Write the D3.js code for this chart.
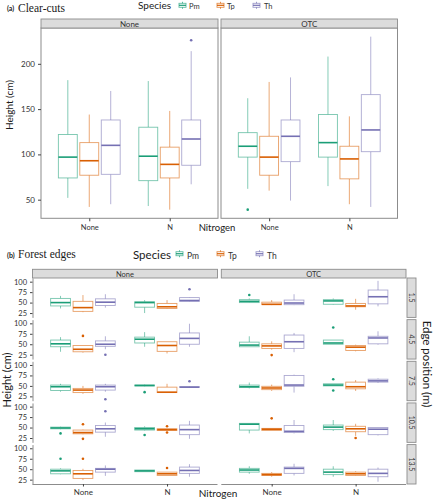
<!DOCTYPE html>
<html><head><meta charset="utf-8">
<script src="https://cdn.jsdelivr.net/npm/d3@7"></script>
<style>body{margin:0;background:#fff} svg{display:block}</style>
</head><body><svg id="c" width="433" height="500"></svg>
<script>
// ---------------- DATA ----------------
const species = ["Pm", "Tp", "Th"];
const speciesColors = ["#1b9e77", "#d95f02", "#7570b3"];
const nitrogen = ["None", "N"];
const warming = ["None", "OTC"];
const edgePositions = ["1.5", "4.5", "7.5", "10.5", "13.5"];
const clearTicks = [50, 100, 150, 200];
const edgeTicks = [25, 50, 75, 100];

// Clear-cuts boxes: [lower whisker, Q1, median, Q3, upper whisker]
// order: None-Pm, None-Tp, None-Th, N-Pm, N-Tp, N-Th
const clearNone = [
  [52, 74, 97, 122, 182], [42, 77, 93, 113, 144], [45, 78, 110, 138, 170],
  [43, 71, 98, 130, 181], [39, 74, 89, 108, 148], [67, 88, 117, 138, 214]
];
const clearOTC = [
  [62, 97, 109, 124, 162], [60, 77, 97, 120, 180], [49, 92, 120, 138, 185],
  [65, 97, 113, 144, 208], [45, 73, 95, 109, 142], [42, 103, 127, 166, 230]
];
// outliers: [nitrogen index, species index, value]
const clearNoneOut = [[1, 2, 226]];
const clearOTCOut = [[0, 0, 39]];

// Forest edges: rows = edge positions; each row six boxes as above
const edgeNone = [
  [[36, 42, 50, 60, 66], [27, 29, 38, 53, 68], [38, 43, 51, 59, 70], [25, 39, 50, 52, 56], [35, 36, 40, 48, 56], [52, 53, 55, 62, 63]],
  [[32, 44, 51, 60, 67], [30, 32, 38, 47, 47], [38, 45, 50, 58, 69], [44, 53, 62, 67, 79], [28, 33, 47, 56, 56], [44, 50, 64, 77, 99]],
  [[36, 39, 48, 52, 55], [31, 34, 40, 44, 50], [36, 40, 48, 52, 55], [49, 50, 51, 52, 53], [34, 34, 35, 47, 55], [46, 47, 47, 48, 49]],
  [[46, 47, 49, 51, 52], [34, 35, 38, 44, 45], [28, 39, 47, 55, 62], [43, 44, 47, 50, 53], [43, 43, 45, 47, 47], [23, 33, 45, 56, 66]],
  [[38, 39, 46, 50, 52], [24, 28, 39, 47, 51], [34, 43, 50, 52, 59], [44, 44, 46, 48, 48], [35, 35, 39, 43, 43], [32, 40, 47, 55, 62]]
];
const edgeOTC = [
  [[49, 50, 53, 57, 60], [44, 45, 46, 51, 56], [44, 45, 49, 56, 70], [45, 46, 54, 57, 60], [33, 40, 42, 48, 59], [41, 47, 64, 80, 102]],
  [[44, 44, 48, 55, 69], [37, 40, 46, 51, 57], [31, 40, 56, 72, 77], [50, 50, 53, 60, 60], [33, 35, 43, 47, 49], [49, 51, 65, 69, 81]],
  [[44, 46, 48, 52, 58], [38, 41, 45, 49, 53], [34, 49, 52, 75, 77], [50, 50, 52, 55, 55], [38, 43, 48, 59, 64], [57, 59, 62, 66, 68]],
  [[36, 44, 58, 60, 60], [43, 43, 46, 48, 48], [36, 38, 41, 55, 68], [42, 45, 51, 56, 68], [30, 40, 47, 53, 59], [31, 33, 46, 50, 50]],
  [[39, 43, 48, 52, 57], [32, 35, 37, 40, 43], [35, 40, 52, 55, 63], [32, 37, 43, 50, 57], [34, 35, 39, 43, 45], [20, 32, 40, 50, 54]]
];
// outliers: [row index, nitrogen index, species index, value]
const edgeNoneOut = [
  [0, 1, 2, 82], [1, 0, 1, 70], [1, 0, 2, 25], [2, 0, 2, 18], [2, 1, 0, 35], [2, 1, 2, 61],
  [3, 0, 0, 36], [3, 0, 1, 58], [3, 0, 1, 23], [3, 0, 2, 89], [3, 1, 0, 32], [3, 1, 1, 53], [3, 1, 1, 38],
  [4, 0, 0, 75], [4, 0, 1, 75], [4, 1, 1, 53]
];
const edgeOTCOut = [
  [0, 0, 0, 68], [1, 0, 1, 24], [1, 1, 0, 90], [2, 1, 0, 66], [2, 1, 0, 39], [3, 0, 1, 72], [3, 1, 1, 25]
];

// ---------------- DRAWING ----------------
const svg = d3.select("#c");
const SANS = "Lato, 'Open Sans', sans-serif";
const SERIF = "'Liberation Serif', 'DejaVu Serif', serif";
const GREY = "#8c8c8c";
const STRIP_FILL = "#dcdcdc";

function text(x, y, str, opts = {}) {
  const t = svg.append("text").attr("x", x).attr("y", y).text(str)
    .style("font-family", opts.family || SANS).style("font-size", (opts.size || 9) + "px")
    .attr("fill", opts.fill || "#1a1a1a").attr("text-anchor", opts.anchor || "start");
  if (opts.weight) t.style("font-weight", opts.weight);
  if (opts.rotate) t.attr("transform", `rotate(${opts.rotate},${x},${y})`);
  return t;
}

function drawBoxes(g, xPoint, yScale, stats, outs) {
  const step = xPoint.step();
  const dodge = d3.scaleBand().domain(species).range([-0.4 * step, 0.4 * step]);
  const bw = 0.235 * step;
  const cxOf = (n, s) => xPoint(nitrogen[n]) + dodge(species[s]) + dodge.bandwidth() / 2;
  stats.forEach((s, i) => {
    const n = Math.floor(i / 3), sp = i % 3, col = speciesColors[sp];
    const cx = cxOf(n, sp);
    g.append("line").attr("x1", cx).attr("x2", cx).attr("y1", yScale(s[4])).attr("y2", yScale(s[3]))
      .attr("stroke", col).attr("stroke-opacity", 0.6).attr("stroke-width", 0.9);
    g.append("line").attr("x1", cx).attr("x2", cx).attr("y1", yScale(s[1])).attr("y2", yScale(s[0]))
      .attr("stroke", col).attr("stroke-opacity", 0.6).attr("stroke-width", 0.9);
    g.append("rect").attr("x", cx - bw / 2).attr("y", yScale(s[3])).attr("width", bw)
      .attr("height", Math.max(0.5, yScale(s[1]) - yScale(s[3])))
      .attr("fill", "#fff").attr("stroke", col).attr("stroke-opacity", 0.6).attr("stroke-width", 0.9);
    g.append("line").attr("x1", cx - bw / 2).attr("x2", cx + bw / 2).attr("y1", yScale(s[2])).attr("y2", yScale(s[2]))
      .attr("stroke", col).attr("stroke-width", 1.6);
  });
  outs.forEach(o => {
    g.append("circle").attr("cx", cxOf(o[0], o[1])).attr("cy", yScale(o[2])).attr("r", 1.3)
      .attr("fill", speciesColors[o[1]]);
  });
}

function strip(x0, y0, w, h, label, rotate, size) {
  svg.append("rect").attr("x", x0).attr("y", y0).attr("width", w).attr("height", h)
    .attr("fill", STRIP_FILL).attr("stroke", GREY).attr("stroke-width", 0.9);
  if (rotate) text(x0 + w / 2 - 2.5, y0 + h / 2, label, { size, anchor: "middle", rotate: 90, fill: "#333" });
  else text(x0 + w / 2, y0 + h / 2 + 3, label, { size, anchor: "middle", fill: "#333" });
}

function legend(xs, ys, keyX, labX, size, labSize) {
  text(xs, ys, "Species", { size });
  species.forEach((s, i) => {
    const col = speciesColors[i], kx = keyX[i], ky = ys - size * 0.72;
    svg.append("line").attr("x1", kx + 3.5).attr("x2", kx + 3.5).attr("y1", ky).attr("y2", ky + 7)
      .attr("stroke", col).attr("stroke-opacity", 0.7);
    svg.append("rect").attr("x", kx).attr("y", ky + 1.5).attr("width", 7).attr("height", 4)
      .attr("fill", "#fff").attr("stroke", col).attr("stroke-opacity", 0.7).attr("stroke-width", 0.9);
    svg.append("line").attr("x1", kx).attr("x2", kx + 7).attr("y1", ky + 3.5).attr("y2", ky + 3.5)
      .attr("stroke", col).attr("stroke-width", 1.2);
    text(labX[i], ys, s, { size: labSize, fill: "#333" });
  });
}

function styleAxis(sel, size) {
  sel.selectAll(".tick line").attr("stroke", "#444");
  sel.selectAll(".tick text").attr("fill", "#333").style("font-family", SANS).style("font-size", size + "px");
  sel.select(".domain").attr("stroke", GREY);
}

// ----- (a) Clear-cuts -----
text(7, 11, "(a)", { size: 7, weight: "bold" });
text(18, 12, "Clear-cuts", { family: SERIF, size: 11.5 });
legend(138, 9, [179, 217, 253], [189, 227, 264], 10, 7.5);

const allClear = clearNone.flat().concat(clearOTC.flat(), clearNoneOut.map(d => d[2]), clearOTCOut.map(d => d[2]));
const [cMin, cMax] = d3.extent(allClear);
const cPad = (cMax - cMin) * 0.05;
const yA = d3.scaleLinear().domain([cMin - cPad, cMax + cPad]).range([218.3, 28]);
const panelsA = [[41, 218], [221, 397.5]];
[clearNone, clearOTC].forEach((stats, w) => {
  const [x0, x1] = panelsA[w];
  const xP = d3.scalePoint().domain(nitrogen).range([x0, x1]).padding(0.6);
  const g = svg.append("g");
  drawBoxes(g, xP, yA, stats, w === 0 ? clearNoneOut : clearOTCOut);
  svg.append("rect").attr("x", x0).attr("y", 28).attr("width", x1 - x0).attr("height", 218.3 - 28)
    .attr("fill", "none").attr("stroke", GREY).attr("stroke-width", 1);
  strip(x0, 19, x1 - x0, 9, warming[w], false, 8);
  const ax = svg.append("g").attr("transform", "translate(0,218.3)")
    .call(d3.axisBottom(xP).tickSize(3).tickSizeOuter(0));
  styleAxis(ax, 7.5);
  ax.select(".domain").remove();
});
const ayA = svg.append("g").attr("transform", "translate(41,0)")
  .call(d3.axisLeft(yA).tickValues(clearTicks).tickSize(3).tickSizeOuter(0));
styleAxis(ayA, 8);
ayA.select(".domain").remove();
text(13, 105, "Height (cm)", { size: 10, anchor: "middle", rotate: -90 });
text(217, 231, "Nitrogen", { size: 9.5, anchor: "middle" });

// ----- (b) Forest edges -----
text(7, 258, "(b)", { size: 7, weight: "bold" });
text(18, 258, "Forest edges", { family: SERIF, size: 11.5 });
legend(133, 258.5, [176, 217, 256], [187, 228, 267], 11.5, 8.5);

const yB = d3.scaleLinear().domain([14.6, 108.8]);
const panelsB = [[32.5, 217.5], [221.3, 406]];
const rowTop = i => 278 + i * 41.65, rowH = 39.4;
[edgeNone, edgeOTC].forEach((rows, w) => {
  const [x0, x1] = panelsB[w];
  const xP = d3.scalePoint().domain(nitrogen).range([x0, x1]).padding(0.6);
  rows.forEach((stats, r) => {
    const y = yB.copy().range([rowTop(r) + rowH, rowTop(r)]);
    const outs = (w === 0 ? edgeNoneOut : edgeOTCOut).filter(o => o[0] === r).map(o => o.slice(1));
    drawBoxes(svg.append("g"), xP, y, stats, outs);
    if (w === 0) {
      const ay = svg.append("g").attr("transform", `translate(${x0},0)`)
        .call(d3.axisLeft(y).tickValues(edgeTicks).tickSize(2.5).tickSizeOuter(0));
      styleAxis(ay, 7.5);
    }
  });
  strip(x0, 269.3, x1 - x0, 8.7, warming[w], false, 7.5);
  const ax = svg.append("g").attr("transform", "translate(0,484)")
    .call(d3.axisBottom(xP).tickSize(2.5).tickSizeOuter(0));
  styleAxis(ax, 8);
  ax.select(".domain").attr("d", `M${x0},0.5H${x1}`);
});
edgePositions.forEach((p, r) => strip(407, rowTop(r), 9, rowH, p, true, 7));
text(10.5, 380, "Height (cm)", { size: 11, anchor: "middle", rotate: -90 });
text(423, 364, "Edge position (m)", { size: 11.5, anchor: "middle", rotate: 90 });
text(218, 497, "Nitrogen", { size: 10, anchor: "middle" });
</script></body></html>
